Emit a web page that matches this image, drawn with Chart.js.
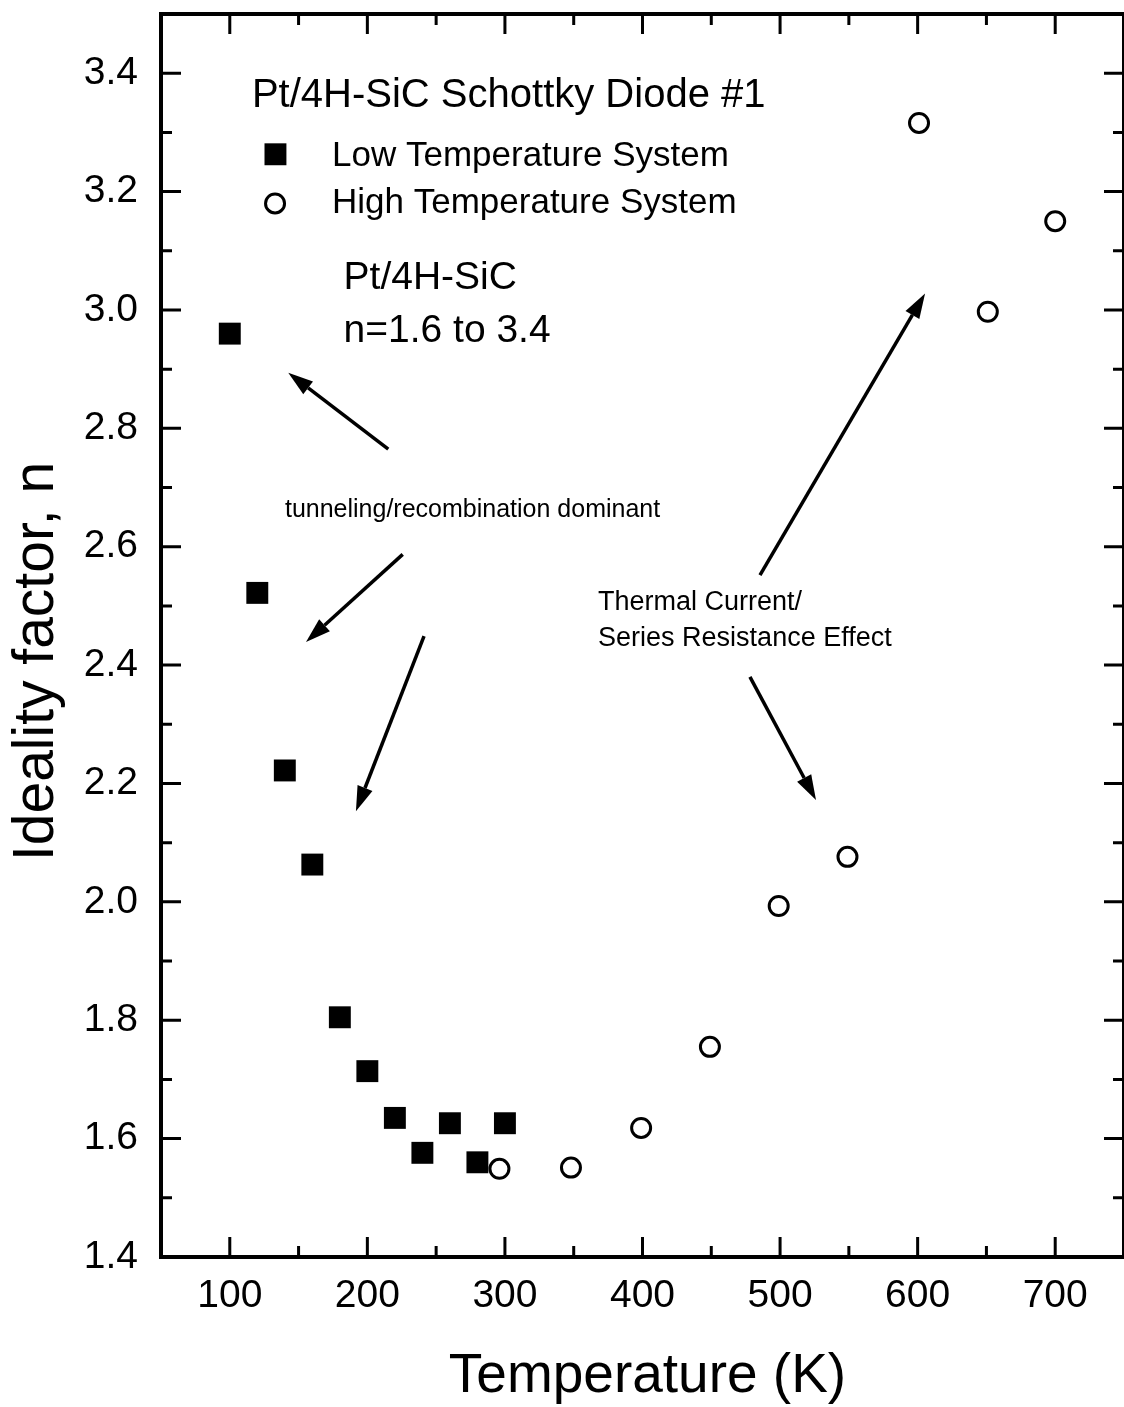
<!DOCTYPE html>
<html>
<head>
<meta charset="utf-8">
<title>Ideality factor vs temperature</title>
<script src="https://cdn.jsdelivr.net/npm/chart.js@4.4.1/dist/chart.umd.min.js"></script>
<style>
  html, body { margin: 0; padding: 0; background: #fff; overflow: hidden; }
  canvas { display: block; }
</style>
</head>
<body>
<canvas id="canvas" width="1124" height="1407"></canvas>
<script>
// values
const lowTemps = [100, 120, 140, 160, 180, 200, 220, 240, 260, 280, 300]
const lowN = [2.96, 2.522, 2.222, 2.063, 1.805, 1.714, 1.635, 1.576, 1.626, 1.56, 1.626]
const highTemps = [296, 348, 399, 449, 499, 549, 601, 651, 700]
const highN = [1.549, 1.551, 1.618, 1.755, 1.993, 2.076, 3.316, 2.997, 3.15]

const xTicks = [100, 200, 300, 400, 500, 600, 700]
const yTicks = [1.4, 1.6, 1.8, 2.0, 2.2, 2.4, 2.6, 2.8, 3.0, 3.2, 3.4]

const FONT = "'Liberation Sans', Arial, Helvetica, sans-serif"

// arrows, in data units: [fromT, fromN, toT, toN]
const arrows = [
    [215.2, 2.765, 142.5, 2.894],
    [225.7, 2.587, 155.4, 2.439],
    [241.2, 2.449, 191.7, 2.153],
    [485.4, 2.552, 605.4, 3.028],
    [478.1, 2.380, 526.1, 2.172]
]

// free text, left edge and baseline in data units
const notes = [
    { text: 'Pt/4H-SiC Schottky Diode #1', t: 116.1, n: 3.343, size: 40 },
    { text: 'Low Temperature System', t: 174.3, n: 3.243, size: 35 },
    { text: 'High Temperature System', t: 174.3, n: 3.164, size: 35 },
    { text: 'Pt/4H-SiC', t: 182.7, n: 3.035, size: 39 },
    { text: 'n=1.6 to 3.4', t: 182.7, n: 2.946, size: 39 },
    { text: 'tunneling/recombination dominant', t: 140.1, n: 2.65, size: 25 },
    { text: 'Thermal Current/', t: 367.7, n: 2.493, size: 27 },
    { text: 'Series Resistance Effect', t: 367.7, n: 2.432, size: 27 }
]

const lowStyle = { pointStyle: 'rect', radius: 15.5, borderWidth: 0 }
const highStyle = { pointStyle: 'circle', radius: 9.5, borderWidth: 3 }

function drawArrow(ctx, x1, y1, x2, y2) {
    let ang = Math.atan2(y2 - y1, x2 - x1)
    let len = 25, half = 8
    let bx = x2 - len * Math.cos(ang), by = y2 - len * Math.sin(ang)
    ctx.beginPath()
    ctx.moveTo(x1, y1)
    ctx.lineTo(bx, by)
    ctx.stroke()
    ctx.beginPath()
    ctx.moveTo(x2, y2)
    ctx.lineTo(bx - half * Math.sin(ang), by + half * Math.cos(ang))
    ctx.lineTo(bx + half * Math.sin(ang), by - half * Math.cos(ang))
    ctx.closePath()
    ctx.fill()
}

// no extra room for half tick labels, the box is placed by hand
function noPadding(scale) {
    scale.paddingTop = 0
    scale.paddingBottom = 0
    scale.paddingLeft = 0
    scale.paddingRight = 0
}

// box with inward ticks on all four sides
const framePlugin = {
    id: 'frame',
    beforeDatasetsDraw(chart) {
        const ctx = chart.ctx
        const a = chart.chartArea
        const x = chart.scales.x, y = chart.scales.y
        ctx.save()
        ctx.strokeStyle = '#000'
        ctx.lineWidth = 4
        ctx.strokeRect(a.left, a.top, a.right - a.left, a.bottom - a.top)
        ctx.lineWidth = 3
        ctx.beginPath()
        for (let i = 0; i < xTicks.length; i++) {
            let px = x.getPixelForValue(xTicks[i])
            ctx.moveTo(px, a.bottom); ctx.lineTo(px, a.bottom - 20)
            ctx.moveTo(px, a.top); ctx.lineTo(px, a.top + 20)
            if (i < xTicks.length - 1) {
                let mx = x.getPixelForValue((xTicks[i] + xTicks[i + 1]) / 2)
                ctx.moveTo(mx, a.bottom); ctx.lineTo(mx, a.bottom - 11)
                ctx.moveTo(mx, a.top); ctx.lineTo(mx, a.top + 11)
            }
        }
        for (let i = 0; i < yTicks.length; i++) {
            let py = y.getPixelForValue(yTicks[i])
            ctx.moveTo(a.left, py); ctx.lineTo(a.left + 20, py)
            ctx.moveTo(a.right, py); ctx.lineTo(a.right - 20, py)
            if (i < yTicks.length - 1) {
                let my = y.getPixelForValue((yTicks[i] + yTicks[i + 1]) / 2)
                ctx.moveTo(a.left, my); ctx.lineTo(a.left + 11, my)
                ctx.moveTo(a.right, my); ctx.lineTo(a.right - 11, my)
            }
        }
        ctx.stroke()
        ctx.restore()
    },
    afterDraw(chart) {
        const ctx = chart.ctx
        const a = chart.chartArea
        const x = chart.scales.x, y = chart.scales.y
        ctx.save()
        ctx.fillStyle = '#000'
        ctx.strokeStyle = '#000'
        ctx.textBaseline = 'alphabetic'
        ctx.textAlign = 'left'
        notes.forEach(function(nt) {
            ctx.font = nt.size + 'px ' + FONT
            ctx.fillText(nt.text, x.getPixelForValue(nt.t), y.getPixelForValue(nt.n))
        })

        // legend symbols
        Chart.helpers.drawPoint(ctx, lowStyle, x.getPixelForValue(133.2), y.getPixelForValue(3.263))
        ctx.lineWidth = highStyle.borderWidth
        ctx.fillStyle = '#fff'
        Chart.helpers.drawPoint(ctx, highStyle, x.getPixelForValue(132.9), y.getPixelForValue(3.18))

        ctx.fillStyle = '#000'
        ctx.lineWidth = 3.5
        arrows.forEach(function(ar) {
            drawArrow(ctx, x.getPixelForValue(ar[0]), y.getPixelForValue(ar[1]),
                x.getPixelForValue(ar[2]), y.getPixelForValue(ar[3]))
        })

        // axis titles
        ctx.font = '55px ' + FONT
        ctx.textAlign = 'center'
        ctx.fillText('Temperature (K)', (a.left + a.right) / 2 + 5, 1392)
        ctx.font = '57px ' + FONT
        ctx.translate(53, (a.top + a.bottom) / 2 + 26)
        ctx.rotate(-Math.PI / 2)
        ctx.fillText('Ideality factor, n', 0, 0)
        ctx.restore()
    }
}

const canvas = document.getElementById('canvas')
const ctx = canvas.getContext('2d')

const config = {
    type: 'scatter',
    data: {
        datasets: [{
            label: 'Low Temperature System',
            data: lowTemps.map((t, i) => ({ x: t, y: lowN[i] })),
            pointStyle: 'rect',
            pointRadius: lowStyle.radius,
            pointBorderWidth: 0,
            backgroundColor: '#000',
            borderColor: '#000'
        }, {
            label: 'High Temperature System',
            data: highTemps.map((t, i) => ({ x: t, y: highN[i] })),
            pointStyle: 'circle',
            pointRadius: highStyle.radius,
            pointBorderWidth: highStyle.borderWidth,
            backgroundColor: '#fff',
            borderColor: '#000'
        }]
    },
    options: {
        responsive: false,
        animation: false,
        devicePixelRatio: 1,
        // the point size would otherwise push the box in from the right edge
        layout: { autoPadding: false, padding: { top: 14, right: 0, left: 0, bottom: 0 } },
        plugins: {
            legend: { display: false },
            tooltip: { enabled: false }
        },
        scales: {
            x: {
                type: 'linear',
                min: 50,
                max: 750,
                grid: { display: false, drawTicks: false },
                border: { display: false },
                afterBuildTicks: function(scale) {
                    scale.ticks = xTicks.map(v => ({ value: v }))
                },
                afterFit: function(scale) {
                    scale.height = 150
                    noPadding(scale)
                },
                ticks: {
                    color: '#000',
                    font: { family: FONT, size: 39 },
                    padding: 16,
                    maxRotation: 0,
                    autoSkip: false
                }
            },
            y: {
                type: 'linear',
                min: 1.4,
                max: 3.5,
                grid: { display: false, drawTicks: false },
                border: { display: false },
                afterBuildTicks: function(scale) {
                    scale.ticks = yTicks.map(v => ({ value: v }))
                },
                afterFit: function(scale) {
                    scale.width = 161
                    noPadding(scale)
                },
                ticks: {
                    color: '#000',
                    font: { family: FONT, size: 39 },
                    padding: 23,
                    autoSkip: false,
                    callback: function(v) { return Number(v).toFixed(1) }
                }
            }
        }
    },
    plugins: [framePlugin]
}

new Chart(ctx, config)
</script>
</body>
</html>
